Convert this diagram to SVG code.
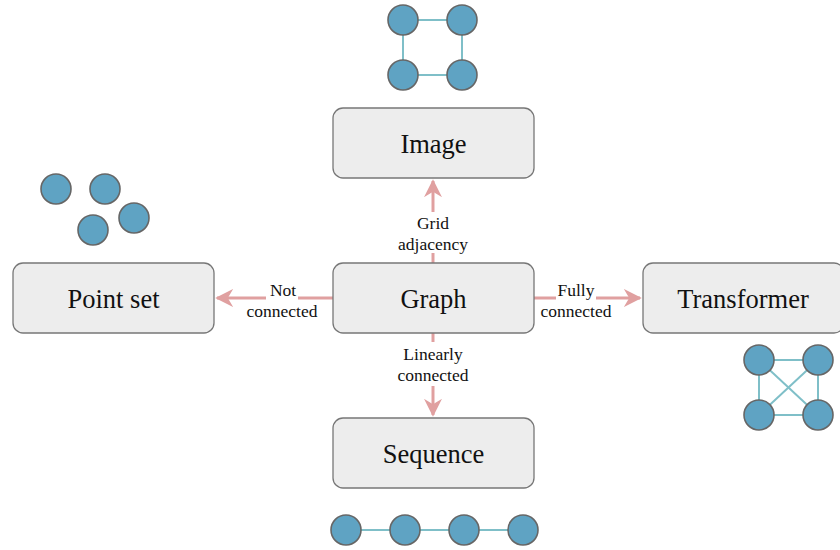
<svg xmlns="http://www.w3.org/2000/svg" width="840" height="550" viewBox="0 0 840 550">
<style>
.box{fill:#ededed;stroke:#777;stroke-width:1.3}
.lbl{font-family:"Liberation Serif","DejaVu Serif",serif;font-size:26.5px;fill:#111;text-anchor:middle;dominant-baseline:central}
.el{font-family:"Liberation Serif","DejaVu Serif",serif;font-size:17.5px;fill:#111;text-anchor:middle}
.arr{stroke:#e0a0a0;stroke-width:3;fill:none}
.bg{fill:#fff}
.dot{fill:#5fa3c3;stroke:#666;stroke-width:1.6}
.ed{stroke:#7fbfc8;stroke-width:2}
</style>
<defs>
<marker id="ah" viewBox="0 0 10 10" refX="9" refY="5" markerWidth="6" markerHeight="6" markerUnits="strokeWidth" orient="auto">
<path d="M0,0 L10,5 L0,10 L3,5 Z" fill="#e0a0a0"/>
</marker>
</defs>
<g id="connectors">
<line class="arr" x1="433" y1="263" x2="433" y2="181" marker-end="url(#ah)"/>
<line class="arr" x1="333" y1="298" x2="217" y2="298" marker-end="url(#ah)"/>
<line class="arr" x1="534" y1="298" x2="640" y2="298" marker-end="url(#ah)"/>
<line class="arr" x1="433" y1="333" x2="433" y2="415" marker-end="url(#ah)"/>
<rect class="bg" x="386" y="212" width="94" height="41"/>
<text class="el" x="433" y="229">Grid</text>
<text class="el" x="433" y="250">adjacency</text>
<rect class="bg" x="266" y="281" width="32" height="19"/>
<rect class="bg" x="244" y="301" width="78" height="20"/>
<text class="el" x="283" y="296">Not</text>
<text class="el" x="282" y="317">connected</text>
<rect class="bg" x="556" y="281" width="40" height="19"/>
<rect class="bg" x="538" y="301" width="78" height="20"/>
<text class="el" x="576" y="296">Fully</text>
<text class="el" x="576" y="317">connected</text>
<rect class="bg" x="394" y="342" width="78" height="44"/>
<text class="el" x="433" y="360">Linearly</text>
<text class="el" x="433" y="381">connected</text>
</g>
<g id="image">
<rect class="box" x="333" y="108" width="201" height="70" rx="10"/>
<text class="lbl" x="433.5" y="144">Image</text>
</g>
<g id="graph">
<rect class="box" x="333" y="263" width="201" height="70" rx="10"/>
<text class="lbl" x="433.5" y="299">Graph</text>
</g>
<g id="pointset">
<rect class="box" x="13" y="263" width="201" height="70" rx="10"/>
<text class="lbl" x="113.5" y="299">Point set</text>
</g>
<g id="transformer">
<rect class="box" x="643" y="263" width="201" height="70" rx="10"/>
<text class="lbl" x="743" y="299">Transformer</text>
</g>
<g id="sequence">
<rect class="box" x="333" y="418" width="201" height="70" rx="10"/>
<text class="lbl" x="433.5" y="454">Sequence</text>
</g>
<g id="icon-image">
<line class="ed" x1="403" y1="20" x2="462" y2="20"/>
<line class="ed" x1="403" y1="75" x2="462" y2="75"/>
<line class="ed" x1="403" y1="20" x2="403" y2="75"/>
<line class="ed" x1="462" y1="20" x2="462" y2="75"/>
<circle class="dot" cx="403" cy="20" r="15"/>
<circle class="dot" cx="462" cy="20" r="15"/>
<circle class="dot" cx="403" cy="75" r="15"/>
<circle class="dot" cx="462" cy="75" r="15"/>
</g>
<g id="icon-pointset">
<circle class="dot" cx="56" cy="189" r="15"/>
<circle class="dot" cx="105" cy="189" r="15"/>
<circle class="dot" cx="93" cy="230" r="15"/>
<circle class="dot" cx="134" cy="218" r="15"/>
</g>
<g id="icon-transformer">
<line class="ed" x1="759" y1="360" x2="818" y2="360"/>
<line class="ed" x1="759" y1="415" x2="818" y2="415"/>
<line class="ed" x1="759" y1="360" x2="759" y2="415"/>
<line class="ed" x1="818" y1="360" x2="818" y2="415"/>
<line class="ed" x1="759" y1="360" x2="818" y2="415"/>
<line class="ed" x1="818" y1="360" x2="759" y2="415"/>
<circle class="dot" cx="759" cy="360" r="15"/>
<circle class="dot" cx="818" cy="360" r="15"/>
<circle class="dot" cx="759" cy="415" r="15"/>
<circle class="dot" cx="818" cy="415" r="15"/>
</g>
<g id="icon-sequence">
<line class="ed" x1="346" y1="530" x2="523" y2="530"/>
<circle class="dot" cx="346" cy="530" r="15"/>
<circle class="dot" cx="405" cy="530" r="15"/>
<circle class="dot" cx="464" cy="530" r="15"/>
<circle class="dot" cx="523" cy="530" r="15"/>
</g>
</svg>
